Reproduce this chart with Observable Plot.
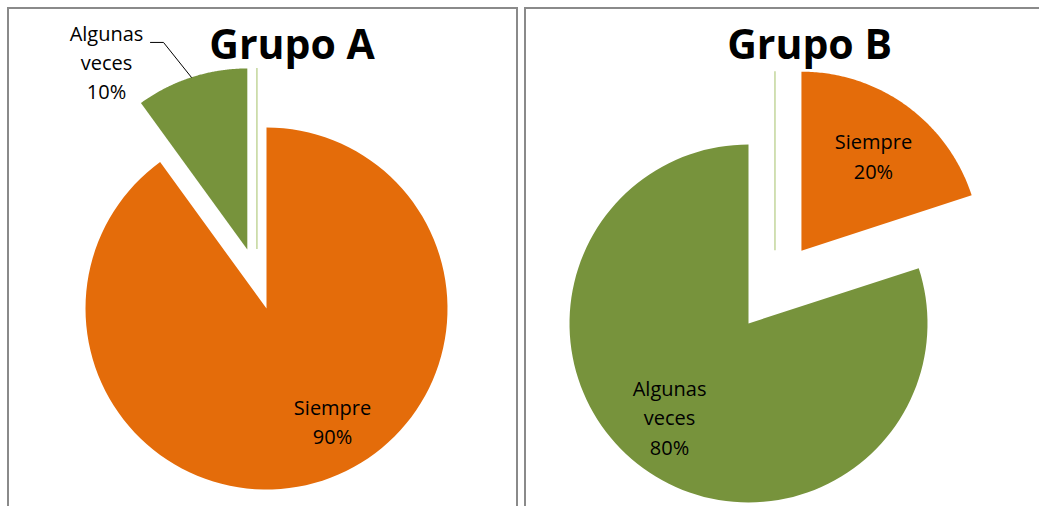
<!DOCTYPE html>
<html>
<head>
<meta charset="utf-8">
<script src="https://cdn.jsdelivr.net/npm/d3@7"></script>
<script src="https://cdn.jsdelivr.net/npm/@observablehq/plot@0.6"></script>
<style>
  html, body { margin: 0; padding: 0; background: #fff; }
  #page { position: relative; width: 1039px; height: 506px; overflow: hidden; background: #fff; font-family: "Open Sans", sans-serif; }
  .panel { position: absolute; top: 7px; height: 600px; border: 2px solid #8a8a8a; box-sizing: border-box; }
  .chart { position: absolute; }
</style>
</head>
<body>
<div id="page">
  <div class="panel" style="left:7px; width:511px;"></div>
  <div class="panel" style="left:524px; width:600px;"></div>
  <div class="chart" id="chartA" style="left:9px; top:9px;"></div>
  <div class="chart" id="chartB" style="left:526px; top:9px;"></div>
</div>
<script>
// ---- data ----
const categories = ["Siempre", "Algunas veces"];
const grupoA = [90, 10];
const grupoB = [20, 80];
const titles = ["Grupo A", "Grupo B"];
const colors = ["#E46C0A", "#77933C"];

// ---- layout (pie units: 1 = radius, y up) ----
const layouts = [
  {
    el: "#chartA", title: titles[0], values: grupoA, explode: [0, 0.343],
    R: 181, width: 506, height: 497, cx: 257, cy: 299,
    titlePos: [0.141, 1.376],
    labelPos: [[0.365, -0.751], [-0.884, 1.155]],
    leader: { slice: 1, elbow: [-0.569, 1.470], end: [-0.641, 1.470] }
  },
  {
    el: "#chartB", title: titles[1], values: grupoB, explode: [0.503, 0],
    R: 179, width: 513, height: 497, cx: 222, cy: 314,
    titlePos: [0.341, 1.475],
    labelPos: [[0.698, 0.810], [-0.441, -0.732]],
    leader: null
  }
];

function build(L) {
  const total = d3.sum(L.values);
  let acc = 0;
  const slices = L.values.map((v, i) => {
    const a0 = acc / total * 2 * Math.PI;
    acc += v;
    const a1 = acc / total * 2 * Math.PI;
    const m = (a0 + a1) / 2;
    const ox = L.explode[i] * Math.sin(m), oy = L.explode[i] * Math.cos(m);
    return { cat: categories[i], value: v, a0, a1, m, ox, oy };
  });
  const pts = [];
  for (const s of slices) {
    pts.push({ cat: s.cat, x: s.ox, y: s.oy });
    const N = 120;
    for (let k = 0; k <= N; k++) {
      const a = s.a0 + (s.a1 - s.a0) * k / N;
      pts.push({ cat: s.cat, x: s.ox + Math.sin(a), y: s.oy + Math.cos(a) });
    }
  }
  const labels = slices.map((s, i) => ({
    x: L.labelPos[i][0], y: L.labelPos[i][1],
    text: s.cat.replace(" ", "\n") + "\n" + s.value + "%"
  }));
  // thin seam line between the two slices at angle 0
  const first = slices[0], last = slices[slices.length - 1];
  const seamX = (first.ox + last.ox) / 2;
  const seamY = Math.max(first.oy, last.oy);
  const marks = [
    Plot.line(pts, { x: "x", y: "y", z: "cat", fill: "cat", stroke: "none" }),
    Plot.ruleX([seamX], { y1: seamY, y2: seamY + 1, stroke: "#c3d69b", strokeWidth: 1.5 }),
    Plot.text(labels, { x: "x", y: "y", text: "text", fontSize: 20, lineHeight: 1.46, lineAnchor: "bottom", textAnchor: "middle", fill: "#000" }),
    Plot.text([L.title], { x: () => L.titlePos[0], y: () => L.titlePos[1], text: d => d, fontSize: 41, fontWeight: "bold", lineAnchor: "bottom", textAnchor: "middle", fill: "#000" })
  ];
  if (L.leader) {
    const s = slices[L.leader.slice];
    const arcPt = { x: s.ox + Math.sin(s.m), y: s.oy + Math.cos(s.m) };
    const path = [
      { x: L.leader.end[0], y: L.leader.end[1] },
      { x: L.leader.elbow[0], y: L.leader.elbow[1] },
      arcPt
    ];
    marks.push(Plot.line(path, { x: "x", y: "y", stroke: "#000", strokeWidth: 1 }));
  }
  const chart = Plot.plot({
    width: L.width, height: L.height,
    x: { domain: [-1, 1], range: [L.cx - L.R, L.cx + L.R], axis: null },
    y: { domain: [-1, 1], range: [L.cy + L.R, L.cy - L.R], axis: null },
    color: { domain: categories, range: colors },
    style: { fontFamily: "'Open Sans', sans-serif", background: "transparent", overflow: "visible" },
    marks
  });
  document.querySelector(L.el).appendChild(chart);
}
layouts.forEach(build);
</script>
</body>
</html>
